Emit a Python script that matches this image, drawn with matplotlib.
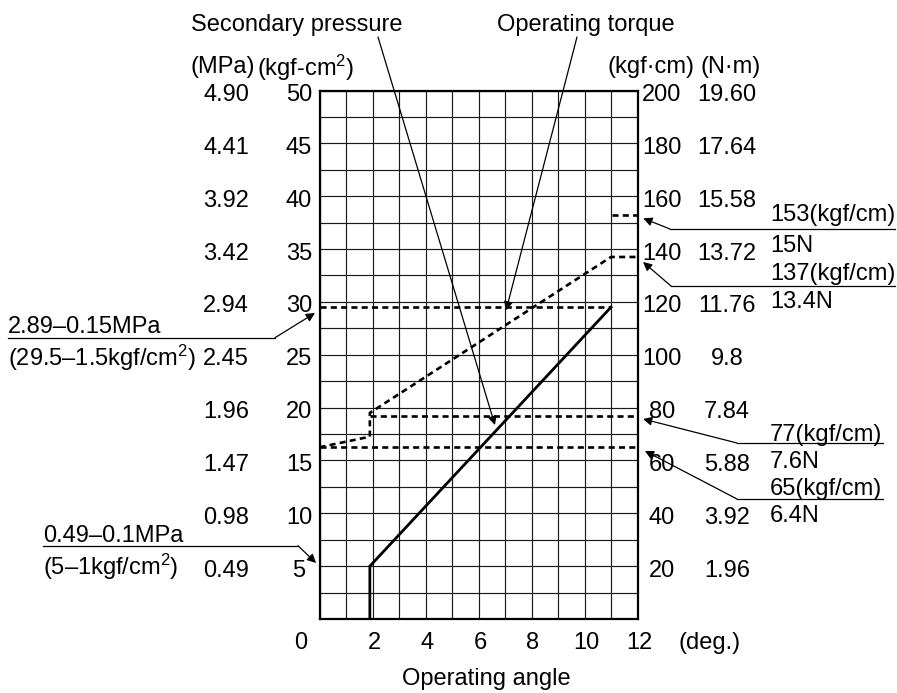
import matplotlib
matplotlib.use('Agg')
import matplotlib.pyplot as plt
import numpy as np
from matplotlib.lines import Line2D
from matplotlib.transforms import IdentityTransform

plt.rcParams['font.family'] = ['Liberation Sans', 'DejaVu Sans']
plt.rcParams['mathtext.fontset'] = 'custom'
plt.rcParams['mathtext.rm'] = 'Liberation Sans'
plt.rcParams['mathtext.it'] = 'Liberation Sans'
plt.rcParams['mathtext.bf'] = 'Liberation Sans:bold'
plt.rcParams['mathtext.default'] = 'rm'
FS = 17

# ---------------- data ----------------
angle_ticks = [2, 4, 6, 8, 10, 12]
kgf_ticks = [5, 10, 15, 20, 25, 30, 35, 40, 45, 50]
mpa_labels = ['0.49', '0.98', '1.47', '1.96', '2.45', '2.94', '3.42', '3.92', '4.41', '4.90']
torque_ticks = [20, 40, 60, 80, 100, 120, 140, 160, 180, 200]
nm_labels = ['1.96', '3.92', '5.88', '7.84', '9.8', '11.76', '13.72', '15.58', '17.64', '19.60']

# secondary pressure (kgf/cm2) vs operating angle (deg)
sec_angle = [1.9, 1.9, 11.0]
sec_pressure = [0.0, 5.0, 29.5]
# upper pressure limit line
plim_angle = [0.0, 11.0]
plim_pressure = [29.5, 29.5]

# operating torque (kgf.cm) vs operating angle
torque_angle = [0.0, 1.9, 1.9, 11.0, 12.0]
torque_kgfcm = [65, 69, 78, 137, 137]
# torque limit lines
t77_angle, t77_val = [1.9, 12.0], [77, 77]
t65_angle, t65_val = [0.0, 12.0], [65, 65]
t153_angle, t153_val = [11.05, 12.0], [153, 153]

# ---------------- figure ----------------
W, H = 897, 693
fig = plt.figure(figsize=(W / 100, H / 100), dpi=100)
L, R, T, B = 319.5, 637.5, 90.5, 619.0
ax = fig.add_axes([L / W, (H - B) / H, (R - L) / W, (B - T) / H])
ax.set_xlim(0, 12)
ax.set_ylim(0, 50)
ax.set_xticks(np.arange(0, 13, 1))
ax.set_yticks(np.arange(0, 50.1, 2.5))
ax.tick_params(length=0, labelleft=False, labelbottom=False)
ax.grid(True, color='#1a1a1a', lw=0.85, zorder=1)
for s in ax.spines.values():
    s.set_linewidth(1.6)
    s.set_color('black')
    s.set_zorder(5)

ax2 = ax.twinx()
ax2.set_ylim(0, 200)
ax2.set_yticks([])
for s in ax2.spines.values():
    s.set_visible(False)

# data lines
ax.plot(sec_angle, sec_pressure, color='black', lw=2.0, solid_joinstyle='miter', zorder=4)
dash = dict(color='black', lw=1.9, dashes=(2.3, 1.6), zorder=4)
ax.plot(plim_angle, plim_pressure, **dash)
ax2.plot(torque_angle, torque_kgfcm, **dash)
ax2.plot(t77_angle, t77_val, **dash)
ax2.plot(t65_angle, t65_val, **dash)
ax2.plot(t153_angle, t153_val, **dash)

tk = dict(fontsize=FS, ha='center', va='center_baseline', textcoords='offset pixels',
          annotation_clip=False)

# left tick labels
for v, m in zip(kgf_ticks, mpa_labels):
    ax.annotate(str(v), xy=(0, v), xytext=(-20.5, -2), **tk)
    ax.annotate(m, xy=(0, v), xytext=(-93.5, -2), **tk)
ax.annotate('0', xy=(0, 0), xytext=(-18.5, -21.5), **tk)
# right tick labels
for v, n in zip(torque_ticks, nm_labels):
    ax2.annotate(str(v), xy=(12, v), xytext=(24.5, -2), **tk)
    ax2.annotate(n, xy=(12, v), xytext=(89.5, -2), **tk)
# bottom tick labels
for a in angle_ticks:
    ax.annotate(str(a), xy=(a, 0), xytext=(1.5, -21.5), **tk)
ax.annotate('(deg.)', xy=(12, 0), xytext=(72.5, -21.5), **tk)


def ftext(x, y, s, ha='center'):
    fig.text(x / W, (H - y) / H, s, fontsize=FS, ha=ha, va='center_baseline')


def hline(x1, x2, y):
    fig.add_artist(Line2D([x1, x2], [H - y, H - y], transform=IdentityTransform(),
                          color='black', lw=0.9))


arrow = dict(arrowstyle='-|>', color='black', lw=0.9, shrinkA=0, shrinkB=0,
             mutation_scale=13)


def arr(axis, tip, px, py):
    axis.annotate('', xy=tip, xycoords='data', xytext=(px, H - py),
                  textcoords='figure pixels', arrowprops=arrow, annotation_clip=False)


# axis unit headers
ftext(223, 64.5, '(MPa)')
ftext(306, 64.5, r'(kgf-cm$^{2}$)')
ftext(651, 64.5, '(kgf·cm)')
ftext(731, 64.5, '(N·m)')
ftext(486, 676.5, 'Operating angle')

# top callouts
ftext(297, 22, 'Secondary pressure')
arr(ax, (6.62, 18.35), 378, 37)
ftext(586, 22, 'Operating torque')
arr(ax, (7.04, 29.2), 577, 37)

# right callouts
ftext(770, 212.5, '153(kgf/cm)', ha='left')
ftext(770, 243, '15N', ha='left')
hline(670, 895, 229)
arr(ax2, (12.22, 151.6), 670, 229)

ftext(770, 271, '137(kgf/cm)', ha='left')
ftext(770, 299.5, '13.4N', ha='left')
hline(671, 895, 286)
arr(ax2, (12.21, 135.1), 671, 286)

ftext(770, 432, '77(kgf/cm)', ha='left')
ftext(770, 460, '7.6N', ha='left')
hline(737, 883, 443)
arr(ax2, (12.21, 75.7), 737, 443)

ftext(770, 487, '65(kgf/cm)', ha='left')
ftext(770, 514, '6.4N', ha='left')
hline(737, 883, 499)
arr(ax2, (12.28, 63.6), 737, 499)

# left callouts
ftext(8, 325, '2.89–0.15MPa', ha='left')
ftext(8, 354, r'(29.5–1.5kgf/cm$^{2}$)', ha='left')
hline(8, 275, 337.7)
arr(ax, (-0.17, 28.95), 275, 337.7)

ftext(43, 533, '0.49–0.1MPa', ha='left')
ftext(43, 563, r'(5–1kgf/cm$^{2}$)', ha='left')
hline(43, 298, 545.7)
arr(ax, (-0.13, 5.3), 298, 545.7)

fig.savefig('out.png', dpi=100)
